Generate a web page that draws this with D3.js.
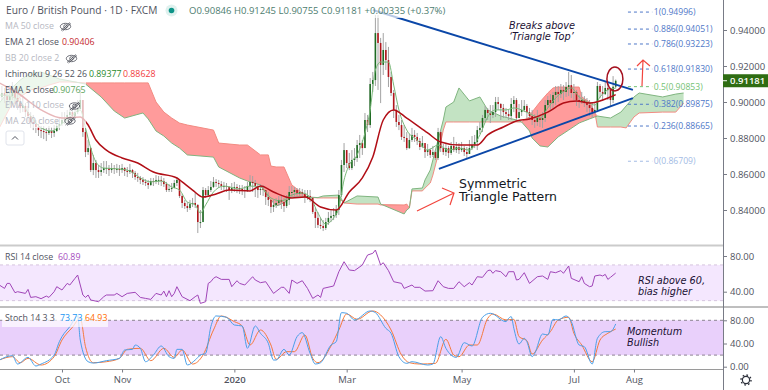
<!DOCTYPE html>
<html>
<head>
<meta charset="utf-8">
<script src="https://cdn.jsdelivr.net/npm/d3@7"></script>
<style>
html, body { margin: 0; padding: 0; background: #fff; overflow: hidden; }
svg { display: block; }
text { font-family: "Open Sans", "Noto Sans", sans-serif; font-size: 9.5px; fill: #50535e; }
.axis path, .axis line { stroke: #787b86; }
.axis text { font-size: 9.5px; fill: #50535e; }
.note { font-family: "DejaVu Sans", sans-serif; font-style: italic; fill: #1a1033; font-size: 9.5px; }
</style>
</head>
<body>
<svg id="chart" width="768" height="390"></svg>
<script>
// daily candles, one entry per bar. open is the previous close
var closes = [
.9028,.9050,.9033,.9011,.9033,.9056,.9022,.9000,.8967,.8978,
.8944,.8922,.8889,.8878,.8861,.8844,.8839,.8833,.8828,.8839,
.8828,.8839,.8867,.8878,.8900,.8911,.8928,.8944,.8922,.8944,
.8961,.9011,.8833,.8722,.8744,.8622,.8661,.8622,.8611,.8622,
.8633,.8633,.8622,.8633,.8628,.8628,.8622,.8633,.8617,.8611,
.8622,.8606,.8583,.8578,.8567,.8556,.8550,.8539,.8561,.8556,
.8567,.8567,.8561,.8544,.8511,.8517,.8522,.8550,.8567,.8478,
.8439,.8422,.8411,.8433,.8439,.8428,.8333,.8333,.8511,.8483,
.8511,.8528,.8556,.8550,.8544,.8533,.8533,.8528,.8511,.8522,
.8528,.8522,.8517,.8511,.8506,.8533,.8556,.8550,.8533,.8511,
.8517,.8511,.8472,.8456,.8417,.8428,.8439,.8456,.8444,.8422,
.8456,.8500,.8500,.8511,.8489,.8500,.8489,.8472,.8478,.8467,
.8389,.8356,.8317,.8311,.8300,.8333,.8356,.8367,.8372,.8400,
.8483,.8650,.8733,.8661,.8633,.8678,.8689,.8761,.8772,.8744,
.8900,.8872,.9100,.9122,.9383,.9328,.9206,.9289,.9233,.9139,
.9050,.8956,.8889,.8872,.8806,.8800,.8744,.8789,.8817,.8806,
.8783,.8750,.8772,.8722,.8733,.8706,.8722,.8689,.8833,.8744,
.8722,.8744,.8717,.8756,.8733,.8750,.8733,.8744,.8722,.8711,
.8744,.8761,.8778,.8844,.8856,.8911,.8956,.8939,.8928,.8944,
.9000,.8989,.8967,.8944,.8933,.8922,.8989,.9011,.8911,.8944,
.8956,.8978,.8944,.8922,.8900,.8889,.8911,.8900,.8911,.8983,
.9011,.8994,.9039,.9056,.9044,.9067,.9056,.9083,.9094,.9050,
.9056,.9011,.9000,.9011,.8994,.8983,.8967,.8944,.8956,.9089,
.9056,.9044,.9078,.9067,.9011,.9085,.9118];
var highs = [
.9078,.9089,.9078,.9067,.9094,.9111,.9078,.9044,.9022,.9033,
.8994,.8978,.8944,.8928,.8900,.8878,.8867,.8867,.8856,.8867,
.8861,.8872,.8900,.8911,.8944,.8944,.8956,.8983,.8967,.8989,
.9011,.9083,.9011,.8856,.8789,.8750,.8706,.8678,.8650,.8661,
.8672,.8672,.8650,.8661,.8650,.8656,.8650,.8656,.8639,.8639,
.8656,.8628,.8617,.8606,.8589,.8583,.8572,.8567,.8578,.8578,
.8594,.8589,.8589,.8578,.8556,.8544,.8550,.8567,.8583,.8572,
.8489,.8456,.8444,.8456,.8467,.8494,.8433,.8400,.8528,.8522,
.8533,.8561,.8583,.8572,.8567,.8561,.8556,.8550,.8533,.8550,
.8556,.8544,.8539,.8539,.8533,.8556,.8594,.8589,.8567,.8544,
.8544,.8539,.8511,.8500,.8456,.8456,.8467,.8478,.8478,.8467,
.8483,.8533,.8533,.8528,.8522,.8522,.8517,.8511,.8511,.8511,
.8472,.8411,.8389,.8356,.8344,.8356,.8389,.8400,.8411,.8428,
.8511,.8678,.8772,.8733,.8717,.8733,.8744,.8789,.8817,.8789,
.8939,.8928,.9133,.9167,.9483,.9483,.9356,.9383,.9333,.9306,
.9167,.9067,.8983,.8928,.8900,.8872,.8833,.8822,.8856,.8844,
.8828,.8800,.8811,.8756,.8767,.8744,.8756,.8733,.8856,.8844,
.8767,.8772,.8756,.8778,.8806,.8778,.8772,.8778,.8756,.8750,
.8789,.8811,.8817,.8867,.8889,.8928,.8978,.8967,.8983,.8983,
.9028,.9028,.8994,.8989,.8967,.8956,.9022,.9033,.9022,.8989,
.9011,.9011,.8989,.8967,.8956,.8933,.8956,.8933,.8944,.9011,
.9033,.9044,.9056,.9089,.9089,.9100,.9094,.9111,.9167,.9150,
.9100,.9067,.9039,.9056,.9033,.9022,.9011,.9000,.8994,.9111,
.9100,.9089,.9111,.9111,.9078,.9144,.9125];
var lows = [
.8989,.9011,.8994,.8978,.8989,.9011,.8989,.8956,.8939,.8944,
.8917,.8889,.8856,.8844,.8828,.8811,.8800,.8794,.8783,.8817,
.8800,.8806,.8833,.8844,.8867,.8878,.8889,.8911,.8900,.8911,
.8933,.8978,.8806,.8694,.8706,.8611,.8594,.8578,.8578,.8589,
.8606,.8600,.8589,.8606,.8600,.8606,.8589,.8606,.8589,.8583,
.8600,.8578,.8567,.8556,.8544,.8539,.8533,.8517,.8533,.8533,
.8544,.8539,.8533,.8528,.8500,.8500,.8500,.8528,.8533,.8467,
.8411,.8406,.8389,.8400,.8417,.8411,.8272,.8300,.8344,.8467,
.8478,.8500,.8522,.8528,.8522,.8511,.8511,.8500,.8456,.8494,
.8500,.8494,.8489,.8483,.8467,.8500,.8511,.8500,.8472,.8467,
.8483,.8478,.8428,.8422,.8383,.8389,.8411,.8422,.8406,.8389,
.8411,.8428,.8472,.8472,.8467,.8478,.8467,.8439,.8456,.8444,
.8378,.8300,.8300,.8294,.8283,.8289,.8317,.8333,.8344,.8356,
.8372,.8472,.8611,.8633,.8622,.8622,.8644,.8667,.8689,.8706,
.8761,.8833,.8856,.9056,.9089,.9067,.8994,.9150,.9178,.9083,
.9033,.8911,.8861,.8844,.8789,.8778,.8733,.8739,.8778,.8778,
.8761,.8733,.8744,.8689,.8700,.8689,.8694,.8678,.8678,.8722,
.8706,.8700,.8689,.8706,.8722,.8717,.8711,.8722,.8700,.8689,
.8717,.8733,.8744,.8733,.8822,.8833,.8889,.8900,.8883,.8911,
.8917,.8956,.8900,.8911,.8911,.8900,.8900,.8944,.8900,.8911,
.8922,.8944,.8911,.8900,.8872,.8856,.8867,.8861,.8856,.8889,
.8967,.8956,.8967,.8983,.9000,.9022,.9011,.9028,.9033,.9022,
.9011,.8978,.8967,.8989,.8972,.8944,.8922,.8911,.8933,.8944,
.9022,.9011,.9039,.9011,.8978,.8994,.9076];

// indicators, read every few bars
var ema21Bars = [0,7,16,24,31,34,37,41,47,53,59,68,70,74,78,83,88,96,100,105,112,117,123,129,134,139,143,147,151,156,164,169,176,183,187,193,198,203,210,216,221,226,234,236];
var ema21 = [.9106,.9050,.8956,.8911,.8917,.8872,.8789,.8733,.8689,.8661,.8611,.8578,.8556,.8511,.8472,.8489,.8511,.8506,.8533,.8500,.8467,.8472,.8417,.8400,.8500,.8578,.8694,.8900,.8956,.8911,.8828,.8778,.8761,.8761,.8817,.8861,.8894,.8906,.8944,.8994,.9006,.8994,.9028,.9041];

var ema5Bars = [0,4,8,12,16,20,24,28,31,33,35,37,40,46,50,54,58,62,66,69,72,75,77,79,82,86,92,96,100,104,108,112,116,119,122,125,128,130,132,134,137,140,142,144,146,149,151,153,156,160,164,168,172,176,180,184,187,190,194,197,200,204,207,210,213,217,219,222,226,228,230,233,236];
var ema5 = [.9039,.9033,.9000,.8922,.8856,.8839,.8878,.8928,.8956,.8856,.8744,.8667,.8633,.8628,.8617,.8578,.8556,.8561,.8528,.8511,.8444,.8428,.8383,.8428,.8500,.8533,.8517,.8533,.8528,.8467,.8450,.8483,.8494,.8472,.8383,.8322,.8356,.8411,.8567,.8650,.8706,.8828,.8956,.9178,.9222,.9222,.9094,.8956,.8844,.8789,.8733,.8761,.8733,.8744,.8733,.8817,.8917,.8956,.8956,.8967,.8956,.8928,.8911,.8967,.9022,.9067,.9078,.9028,.8994,.8983,.9028,.9067,.9077];

var cloudBars = [0,4,8,12,16,19,23,27,33,39,44,48,55,57,60,63,66,69,72,82,84,92,95,100,103,104,106,109,112,118,122,124,130,132,137,145,146,155,156,157,158,162,163,165,166,168,170,171,174,176,180,184,187,192,198,200,201,203,204,207,210,212,214,218,222,223,226,228,229,234,238,240,243,245,254,259,262];
var spanA = [.8994,.9067,.9122,.9161,.9167,.9150,.9128,.9117,.9100,.9028,.8950,.8911,.8939,.8906,.8839,.8811,.8772,.8744,.8706,.8694,.8639,.8578,.8561,.8539,.8472,.8456,.8422,.8439,.8472,.8472,.8469,.8478,.8483,.8439,.8478,.8472,.8433,.8378,.8400,.8411,.8517,.8522,.8567,.8622,.8678,.8789,.8900,.8972,.9000,.9078,.9006,.9028,.8956,.8922,.8900,.8889,.8872,.8839,.8800,.8756,.8750,.8778,.8806,.8844,.8883,.8889,.8906,.8917,.8922,.8911,.8944,.8978,.9028,.9050,.9028,.9044,.9050];
var spanB = [.8856,.8967,.9028,.9067,.9078,.9094,.9111,.9111,.9106,.9106,.9106,.9106,.9106,.9106,.9000,.8944,.8911,.8883,.8872,.8844,.8772,.8761,.8761,.8706,.8706,.8644,.8639,.8639,.8539,.8472,.8467,.8467,.8467,.8439,.8433,.8433,.8428,.8428,.8433,.8411,.8506,.8506,.8522,.8550,.8594,.8706,.8844,.8889,.8889,.8889,.8889,.8889,.8889,.8889,.8889,.8889,.8900,.8917,.8944,.9000,.9050,.9078,.9083,.9083,.9083,.9028,.9000,.8944,.8861,.8861,.8861,.8856,.8917,.8939,.8944,.8944,.8994];

var rsiBars = [0,2,3,4,6,7,10,11,12,14,16,18,19,21,22,24,26,27,29,30,32,33,34,35,38,40,41,44,45,47,49,52,54,56,58,60,62,63,64,65,66,67,68,70,73,75,76,77,79,80,81,82,83,85,88,89,91,92,94,97,98,
100,102,105,108,109,111,112,114,116,118,120,122,123,124,128,130,132,134,136,139,141,143,144,146,147,149,151,154,155,158,159,161,163,166,168,170,172,174,176,178,180,181,183,185,187,188,189,190,192,194,195,
197,198,199,201,203,206,208,210,211,213,215,216,218,219,222,223,224,226,227,228,230,231,232,233,234,236];
var rsi = [47.5,43.7,49.3,49.3,38.9,40,38.1,42.6,33.6,34.4,32.2,35.1,33.6,40,45.6,41.9,49.3,47.5,55,58.7,36.3,33.6,36.3,30.7,28.8,34.4,36.3,36.3,38.1,34.4,38.1,39.3,33.6,32.5,31.4,38.1,36.3,40.7,34.4,41.1,34.4,38.1,45.6,34.4,29.9,34.4,36.3,26.9,28.8,49.3,51.2,55,56.8,53.8,53.8,45.6,52.3,49.3,47.5,56.8,53.1,
50.1,51.2,38.1,44.9,44.9,38.1,53.1,49.3,52.3,43.7,32.5,36.3,33.6,43.7,46.4,62.4,73.6,64.3,63.6,69.9,81.1,83,86.7,69.9,72.5,63.6,51.2,49.3,43.7,47.5,44.9,44.9,40.7,41.1,52.3,45.6,43.7,43.7,51.2,45.6,50.1,47.5,56.8,56.1,63.6,64.3,60.6,63.6,62.4,56.8,62.4,
62.4,53.1,53.8,61.3,49.3,56.8,57.6,53.8,62.4,61.3,63.6,60.6,68.8,55,51.2,56.8,49.3,45.6,46.4,57.6,58.7,57.6,59.4,53.8,56.1,60.9];

var stochKBars = [0,5,7,11,14,16,21,23,24,27,30,31,34,36,41,46,48,51,52,54,56,59,62,65,67,68,70,72,75,77,79,81,83,87,90,93,95,98,
100,103,105,106,109,111,114,116,119,121,123,127,129,131,133,136,142,144,148,150,153,156,158,164,166,169,171,175,178,181,185,188,194,195,
196,197,199,201,202,204,205,208,210,212,214,217,219,222,224,227,229,232,234,236];
var stochK = [11.5,19,4.6,16.1,1.2,4.6,20.1,43.2,51.8,69.1,87.5,46,8.6,6.3,10.4,14.4,28.8,29.9,37.4,31.7,8.6,20.1,35.7,17.3,14.4,29.9,29.9,2.9,11.5,20.1,23,69.1,87.5,85.2,71.9,70.2,31.7,70.2,
57.6,40.3,11.5,11.5,29.9,20.1,51.8,58.7,23,4.6,6.9,37.4,43.2,93.2,92.1,80.6,96.1,93.2,66.2,57.6,17.3,5.8,8.6,2.9,4.6,51.8,31.7,16.1,41.4,35.7,85.2,92.1,77.7,83.4,
86.3,66.2,39.1,48.9,43.2,17.3,23,56.4,54.7,81.7,80.6,87.5,77.7,37.4,34.5,4.6,48.9,60.4,60.4,73.7];

var stochDBars = [0,5,8,11,16,21,24,28,31,33,36,41,46,49,54,58,63,67,70,74,78,82,85,90,93,96,100,
104,106,110,113,117,120,122,127,130,133,137,143,146,150,154,157,161,167,171,174,176,180,183,187,189,194,
197,199,202,204,208,211,214,218,220,223,227,230,233,236];
var stochD = [11.5,17.3,6.9,14.4,2.9,17.3,46,67.9,83.4,34.5,6.9,8.6,14.4,29.9,31.7,10.4,31.7,16.1,28.8,4.6,20.1,63.3,87.5,77.7,70.2,37.4,63.3,
37.4,12.7,25.9,25.9,54.7,14.4,6.9,35.7,63.3,90.9,81.7,96.1,89.2,63.3,20.1,6.9,4.6,5.8,47.2,20.1,17.3,37.4,37.4,83.4,90.9,80.6,
81.7,51.8,44.9,21.9,46,60.4,80.6,85.2,57.6,37.4,8.6,46,57.6,64.9];

// labels and levels
var priceTicks = [.84,.86,.88,.90,.92,.94];
var rsiTicks = [40,80];
var stochTicks = [0,40,80];
var timeBars = [24,47,90,133,177,220,243];
var timeLabels = ["Oct","Nov","2020","Mar","May","Jul","Aug"];
var fibRatios = ["1","0.886","0.786","0.618","0.5","0.382","0.236","0"];
var fibPrices = [.94996,.94051,.93223,.91830,.90853,.89875,.88665,.86709];
var fibColors = ["#4f78c8","#4f78c8","#4f78c8","#4f78c8","#74c274","#4f78c8","#4f78c8","#a3bbe4"];
var lastClose = .91181;

var svg = d3.select("#chart");
var plotRight = 723;

var x = d3.scaleLinear().domain([0, 262]).range([-0.7, 683.6]);
var y = d3.scaleLinear().domain([.84, .94]).range([210, 30]);
var yRsi = d3.scaleLinear().domain([40, 80]).range([291.7, 256]);
var yStoch = d3.scaleLinear().domain([0, 80]).range([366.7, 320.3]);

svg.append("clipPath").attr("id", "mainClip").append("rect")
    .attr("width", plotRight).attr("height", 245);

var main = svg.append("g").attr("clip-path", "url(#mainClip)");

function cloudPath(lower) {
    return d3.area()
        .x(function(d) { return x(d[0]); })
        .y0(function(d) { return y(lower(d)); })
        .y1(function(d) { return y(Math.max(d[1], d[2])); });
}
var cloud = d3.zip(cloudBars, spanA, spanB);

main.append("path").datum(cloud)
    .attr("d", cloudPath(function(d) { return d[2]; }))
    .attr("fill", "#c3e3c3");
main.append("path").datum(cloud)
    .attr("d", cloudPath(function(d) { return d[1]; }))
    .attr("fill", "#ff9b9b");

function seriesLine(scale, curve) {
    return d3.line()
        .x(function(d) { return x(d[0]); })
        .y(function(d) { return scale(d[1]); })
        .curve(curve || d3.curveLinear);
}

main.append("path").datum(d3.zip(cloudBars, spanB))
    .attr("d", seriesLine(y)).attr("fill", "none").attr("stroke", "#f28b82");
main.append("path").datum(d3.zip(cloudBars, spanA))
    .attr("d", seriesLine(y)).attr("fill", "none").attr("stroke", "#80b580");

// candles
var bars = closes.map(function(c, i) {
    return { i: i, open: i ? closes[i - 1] : c, close: c, high: highs[i], low: lows[i] };
});
var candle = main.selectAll(".bar").data(bars).enter().append("g").attr("class", "bar");
candle.append("line")
    .attr("x1", function(d) { return x(d.i); })
    .attr("x2", function(d) { return x(d.i); })
    .attr("y1", function(d) { return y(d.high); })
    .attr("y2", function(d) { return y(d.low); })
    .attr("stroke", "#a3a3a3");
candle.append("rect")
    .attr("x", function(d) { return x(d.i) - 0.8; })
    .attr("width", 1.6)
    .attr("y", function(d) { return y(Math.max(d.open, d.close)); })
    .attr("height", function(d) { return Math.max(1, Math.abs(y(d.open) - y(d.close))); })
    .attr("fill", function(d) { return d.close >= d.open ? "#1e6b22" : "#b2161c"; });

main.append("path").datum(d3.zip(ema5Bars, ema5))
    .attr("d", seriesLine(y, d3.curveMonotoneX)).attr("fill", "none").attr("stroke", "#7ab87a");
main.append("path").datum(d3.zip(ema21Bars, ema21))
    .attr("d", seriesLine(y, d3.curveMonotoneX)).attr("fill", "none").attr("stroke", "#b10e16").attr("stroke-width", 1.5);

// fibonacci levels
var fib = svg.append("g").selectAll("g").data(fibPrices).enter().append("g");
fib.append("line")
    .attr("x1", x(240.7)).attr("x2", x(250))
    .attr("y1", function(d) { return y(d); })
    .attr("y2", function(d) { return y(d); })
    .attr("stroke", function(d, i) { return fibColors[i]; })
    .attr("stroke-dasharray", "3 3");
fib.append("text")
    .attr("x", x(250.6))
    .attr("y", function(d) { return y(d); })
    .attr("dy", "0.35em")
    .style("font-size", "8.6px")
    .style("fill", function(d, i) { return fibColors[i]; })
    .text(function(d, i) { return fibRatios[i] + "(" + d3.format(".5f")(d) + ")"; });

// triangle
var trendTop = [[143, .9511], [242.6, .9067]];
var trendBottom = [[168.3, .8628], [242.6, .9022]];
[trendTop, trendBottom].forEach(function(t) {
    main.append("path").datum(t).attr("d", seriesLine(y))
        .attr("stroke", "#0b47a8").attr("stroke-width", 1.9).attr("fill", "none");
});
main.append("ellipse")
    .attr("cx", x(235.7)).attr("cy", y(.9128)).attr("rx", 8).attr("ry", 12)
    .attr("fill", "none").attr("stroke", "#a5111f").attr("stroke-width", 1.5);

// drawn arrows
function arrow(d) {
    svg.append("path").attr("d", d).attr("fill", "none")
        .attr("stroke", "#f2453d").attr("stroke-width", 1.2);
}
arrow("M642,86L643,60M637,66L643,60L650,66");
arrow("M417,211L454,193M442,188L454,193L450,205");

// panels
svg.append("rect").attr("y", yRsi(70)).attr("width", plotRight)
    .attr("height", yRsi(30) - yRsi(70)).attr("fill", "#f4e7fe");
[70, 30].forEach(function(v) {
    svg.append("line").attr("x2", plotRight).attr("y1", yRsi(v)).attr("y2", yRsi(v))
        .attr("stroke", "#d5c5de").attr("stroke-dasharray", "3 3");
});
svg.append("path").datum(d3.zip(rsiBars, rsi))
    .attr("d", seriesLine(yRsi)).attr("fill", "none").attr("stroke", "#a045b8");

svg.append("rect").attr("y", yStoch(80)).attr("width", plotRight)
    .attr("height", yStoch(20) - yStoch(80)).attr("fill", "#e9d0fb");
[80, 20].forEach(function(v) {
    svg.append("line").attr("x2", plotRight).attr("y1", yStoch(v)).attr("y2", yStoch(v))
        .attr("stroke", "#8d8492").attr("stroke-dasharray", "3 3");
});
svg.append("path").datum(d3.zip(stochDBars, stochD))
    .attr("d", seriesLine(yStoch, d3.curveMonotoneX)).attr("fill", "none").attr("stroke", "#f5793b");
svg.append("path").datum(d3.zip(stochKBars, stochK))
    .attr("d", seriesLine(yStoch, d3.curveMonotoneX)).attr("fill", "none").attr("stroke", "#4a9fe8");

svg.append("line").attr("x2", plotRight).attr("y1", 245.5).attr("y2", 245.5)
    .attr("stroke", "#cbcbcb").attr("stroke-width", 2);
svg.append("line").attr("x2", 768).attr("y1", 307).attr("y2", 307).attr("stroke", "#7f7f7f");
svg.append("line").attr("x2", plotRight).attr("y1", 369.5).attr("y2", 369.5).attr("stroke", "#9a9a9a");

// axes
function rightAxis(scale, ticks, fmt) {
    svg.append("g").attr("class", "axis")
        .attr("transform", "translate(" + plotRight + ",0)")
        .call(d3.axisRight(scale).tickValues(ticks).tickFormat(d3.format(fmt)).tickSize(4).tickPadding(3));
}
rightAxis(y, priceTicks, ".5f");
rightAxis(yRsi, rsiTicks, ".2f");
rightAxis(yStoch, stochTicks, ".2f");
svg.selectAll(".axis path.domain").remove();

svg.append("line").attr("x1", plotRight + 0.5).attr("x2", plotRight + 0.5).attr("y2", 390).attr("stroke", "#787b86");

var timeAxis = svg.append("g").attr("class", "axis")
    .attr("transform", "translate(0,369.5)")
    .call(d3.axisBottom(x).tickValues(timeBars).tickSize(3).tickPadding(4)
        .tickFormat(function(d, i) { return timeLabels[i]; }));
timeAxis.select("path.domain").remove();
timeAxis.selectAll("text").style("font-weight", function(d, i) { return timeLabels[i] == "2020" ? 600 : 400; });

// last price tag
svg.append("rect").attr("x", plotRight).attr("y", y(lastClose) - 6.5)
    .attr("width", 45).attr("height", 13).attr("fill", "#2f6d13");
svg.append("line").attr("x1", plotRight).attr("x2", plotRight + 4)
    .attr("y1", y(lastClose)).attr("y2", y(lastClose)).attr("stroke", "#fff");
svg.append("text").attr("x", plotRight + 7).attr("y", y(lastClose)).attr("dy", "0.35em")
    .style("fill", "#fff").style("font-weight", 600).text(d3.format(".5f")(lastClose));

// settings gear
svg.append("circle").attr("cx", 746).attr("cy", 380).attr("r", 3.6)
    .attr("fill", "none").attr("stroke", "#2a2e39").attr("stroke-width", 1.2);
svg.append("circle").attr("cx", 746).attr("cy", 380).attr("r", 5)
    .attr("fill", "none").attr("stroke", "#2a2e39").attr("stroke-width", 1.4).attr("stroke-dasharray", "1.6 2.3");

// legend sits on a see-through white strip
[[0, 66, 86, 62], [184, 4, 238, 14], [2, 310, 106, 17]].forEach(function(r) {
    svg.append("rect").attr("x", r[0]).attr("y", r[1]).attr("width", r[2]).attr("height", r[3])
        .attr("fill", "#fff").attr("opacity", 0.7);
});

function label(px, py, str, color, size) {
    return svg.append("text").attr("x", px).attr("y", py).attr("dy", "0.35em")
        .style("fill", color).style("font-size", (size || 8.8) + "px").text(str);
}
var grey = "#50535e", faint = "#b6b8c2";
label(6, 10, "Euro / British Pound \u00b7 1D \u00b7 FXCM", grey, 10.2);
label(189, 11, "O0.90846  H0.91245  L0.90755  C0.91181  +0.00335 (+0.37%)", "#4e7d6f", 9.5);
svg.append("circle").attr("cx", 171.5).attr("cy", 10.5).attr("r", 6).attr("fill", "#dff1ee");
svg.append("circle").attr("cx", 171.5).attr("cy", 10.5).attr("r", 2.8).attr("fill", "#0d9488");

label(5, 26, "MA 50 close", faint);
label(5, 42, "EMA 21 close", grey);
label(62, 42, "0.90406", "#c4282d");
label(5, 58, "BB 20 close 2", faint);
label(5, 74, "Ichimoku 9 26 52 26", grey);
label(89, 74, "0.89377", "#2a8a2a");
label(123, 74, "0.88628", "#f23d3d");
label(5, 90, "EMA 5 close", grey);
label(53, 90, "0.90765", "#5da65d");
label(5, 105, "EMA 110 close", faint);
label(5, 121, "MA 200 close", faint);
label(5, 256.5, "RSI 14 close", grey);
label(58, 256.5, "60.89", "#a64cc0");
label(5, 318, "Stoch 14 3 3", grey);
label(60, 318, "73.73", "#2196f3");
label(85, 318, "64.93", "#ff6d00");

function eyeOff(cx, cy) {
    var g = svg.append("g").attr("transform", "translate(" + cx + "," + cy + ")")
        .attr("fill", "none").attr("stroke", "#4a4d57").attr("stroke-width", 0.8);
    g.append("ellipse").attr("rx", 5.2).attr("ry", 3.2);
    g.append("circle").attr("r", 1.8);
    g.append("path").attr("d", "M-4.5,4L4.5,-4M-3,4.5L5.5,-3");
}
eyeOff(65.5, 26.5);
eyeOff(71.5, 58.5);
eyeOff(74.5, 106);
eyeOff(70, 121);

svg.append("rect").attr("x", 6).attr("y", 131).attr("width", 18).attr("height", 14).attr("rx", 2)
    .attr("fill", "#fff").attr("stroke", "#e0e3eb");
svg.append("path").attr("d", "M12,139.5L15,136.5L18,139.5").attr("fill", "none").attr("stroke", "#50535e");

// notes
function note(px, lines, top, step, size) {
    lines.forEach(function(str, i) {
        svg.append("text").attr("class", "note").attr("x", px).attr("y", top + i * step)
            .attr("dy", "0.35em").style("font-size", size + "px").text(str);
    });
}
note(509, ["Breaks above", "\u2018Triangle Top\u2019"], 25.5, 11, 9.7);
note(638, ["RSI above 60,", "bias higher"], 281, 10.5, 9.7);
note(627, ["Momentum", "Bullish"], 332, 10.5, 9.7);
// one text element, two lines
var pattern = svg.append("text")
    .style("font-family", "'DejaVu Sans', sans-serif").style("font-size", "12.5px").style("fill", "#131722");
pattern.append("tspan").attr("x", 459).attr("y", 187.5).text("Symmetric");
pattern.append("tspan").attr("x", 459).attr("y", 200.5).text("Triangle Pattern");
</script>
</body>
</html>
